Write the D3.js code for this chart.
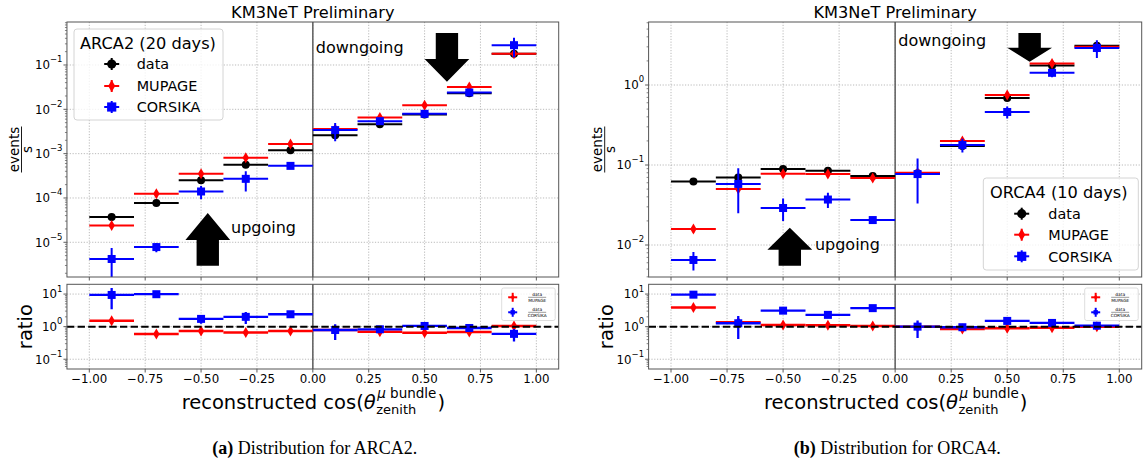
<!DOCTYPE html>
<html><head><meta charset="utf-8">
<script src="https://cdn.jsdelivr.net/npm/d3@7"></script>
<style>body{margin:0;background:#fff} svg{display:block} text{font-family:"DejaVu Sans",sans-serif;fill:#000}</style>
</head><body><svg id="c" width="1144" height="466"></svg>
<script>
// ---------------- DATA ----------------
const bins = [-0.9, -0.7, -0.5, -0.3, -0.1, 0.1, 0.3, 0.5, 0.7, 0.9];
const binHalfWidth = 0.1;
const xTicks = [-1, -0.75, -0.5, -0.25, 0, 0.25, 0.5, 0.75, 1];
const seriesNames = ["data", "MUPAGE", "CORSIKA"];

// ARCA2 (20 days) - events/s
const arcaData = [3.7e-5, 7.7e-5, 2.5e-4, 5.6e-4, 1.19e-3, 2.6e-3, 4.6e-3, 7.6e-3, 0.023, 0.18];
const arcaDataErr = [2e-6, 3e-6, 6e-6, 1e-5, 2e-5, 4e-5, 6e-5, 1e-4, 3e-4, 2e-3];
const arcaMupage = [2.4e-5, 1.25e-4, 3.5e-4, 8.1e-4, 1.65e-3, 3.6e-3, 6.5e-3, 0.0123, 0.032, 0.18];
const arcaMupageErr = [2.5e-6, 1.2e-5, 3e-5, 7e-5, 1.4e-4, 3e-4, 5e-4, 1e-3, 2.5e-3, 0.012];
const arcaCorsika = [4.2e-6, 7.8e-6, 1.4e-4, 2.7e-4, 5.3e-4, 3.4e-3, 5.4e-3, 7.9e-3, 0.024, 0.28];
const arcaCorsikaErr = [3.2e-6, 1.8e-6, 4.6e-5, 1.3e-4, 3e-5, 1.5e-3, 6e-4, 1.5e-3, 1e-3, 0.13];
const arcaRatioMupage = [1.53, 0.60, 0.74, 0.66, 0.74, 0.79, 0.70, 0.65, 0.69, 1.05];
const arcaRatioMupageErr = [0.2, 0.07, 0.08, 0.08, 0.08, 0.08, 0.07, 0.07, 0.07, 0.12];
const arcaRatioCorsika = [9.4, 9.9, 1.73, 2.0, 2.4, 0.79, 0.83, 1.05, 0.91, 0.6];
const arcaRatioCorsikaErr = [6, 0.8, 0.5, 0.8, 0.2, 0.4, 0.08, 0.1, 0.1, 0.25];

// ORCA4 (10 days) - events/s
const orcaData = [0.062, 0.070, 0.089, 0.085, 0.073, 0.079, 0.173, 0.69, 1.75, 3.1];
const orcaDataErr = [0.001, 0.001, 0.001, 0.001, 0.001, 0.001, 0.002, 0.005, 0.01, 0.02];
const orcaMupage = [0.0158, 0.050, 0.078, 0.077, 0.069, 0.080, 0.20, 0.75, 1.86, 3.0];
const orcaMupageErr = [0.0015, 0.004, 0.005, 0.005, 0.004, 0.005, 0.015, 0.05, 0.12, 0.2];
const orcaCorsika = [0.0065, 0.058, 0.029, 0.037, 0.0205, 0.077, 0.178, 0.46, 1.42, 2.9];
const orcaCorsikaErr = [0.0017, 0.033, 0.009, 0.008, 0.002, 0.044, 0.035, 0.08, 0.17, 0.72];
const orcaRatioMupage = [3.9, 1.36, 1.13, 1.1, 1.05, 1.0, 0.85, 0.9, 0.93, 1.0];
const orcaRatioMupageErr = [0.4, 0.4, 0.1, 0.1, 0.08, 0.1, 0.08, 0.08, 0.08, 0.08];
const orcaRatioCorsika = [9.6, 1.27, 3.1, 2.3, 3.7, 1.0, 0.96, 1.5, 1.3, 1.07];
const orcaRatioCorsikaErr = [0.8, 0.85, 0.6, 0.4, 0.3, 0.55, 0.08, 0.15, 0.12, 0.2];

// ---------------- LAYOUT ----------------
const colors = {data: "#000000", MUPAGE: "#ff0000", CORSIKA: "#0000ff"};
const markers = {data: "circle", MUPAGE: "diamond", CORSIKA: "square"};
const ratioDomain = [Math.pow(10, -1.3), Math.pow(10, 1.3)];

const panels = [
  {
    id: "a", x0: 66.95, x1: 558.7, mainTop: 22, mainBottom: 277, ratioTop: 284.3, ratioBottom: 369,
    yDomain: [Math.pow(10, -5.783), Math.pow(10, -0.03)],
    main: {data: [arcaData, arcaDataErr], MUPAGE: [arcaMupage, arcaMupageErr], CORSIKA: [arcaCorsika, arcaCorsikaErr]},
    ratio: {MUPAGE: [arcaRatioMupage, arcaRatioMupageErr], CORSIKA: [arcaRatioCorsika, arcaRatioCorsikaErr]},
    legend: {title: "ARCA2 (20 days)", bx: 74, by: 29, bw: 149, bh: 91, tx: 80, ty: 48.5, mx: 111.7, lx: 136.7, rows: [64, 86, 107]},
    eventsX: 21.5, ratioX: 31.7,
    arrows: [{x: -0.47, tail: 0.044, tip: 0.251, head: 0.106}, {x: 0.6, tail: 0.957, tip: 0.766, head: 0.089}],
    notes: [{t: "upgoing", x: -0.366, y: 0.1725}, {t: "downgoing", x: 0.013, y: 0.8765}],
    caption: ["(a)", " Distribution for ARCA2."]
  },
  {
    id: "b", x0: 648.6, x1: 1141.7, mainTop: 22, mainBottom: 277, ratioTop: 284.3, ratioBottom: 369,
    yDomain: [Math.pow(10, -2.4), Math.pow(10, 0.7875)],
    main: {data: [orcaData, orcaDataErr], MUPAGE: [orcaMupage, orcaMupageErr], CORSIKA: [orcaCorsika, orcaCorsikaErr]},
    ratio: {MUPAGE: [orcaRatioMupage, orcaRatioMupageErr], CORSIKA: [orcaRatioCorsika, orcaRatioCorsikaErr]},
    legend: {title: "ORCA4 (10 days)", bx: 983.3, by: 178, bw: 155, bh: 92, tx: 990, ty: 198, mx: 1021.7, lx: 1048.3, rows: [213.7, 234.7, 256.3]},
    eventsX: 604.7, ratioX: 613.3,
    arrows: [{x: -0.47, tail: 0.044, tip: 0.193, head: 0.086}, {x: 0.6, tail: 0.957, tip: 0.844, head: 0.055}],
    notes: [{t: "upgoing", x: -0.358, y: 0.106}, {t: "downgoing", x: 0.014, y: 0.904}],
    caption: ["(b)", " Distribution for ORCA4."]
  }
];

const svg = d3.select("#c");

function drawMarker(g, type, cx, cy, color, s) {
  s = s || 1;
  if (type === "circle") {
    g.append("circle").attr("cx", cx).attr("cy", cy).attr("r", 4 * s).attr("fill", color);
  } else if (type === "diamond") {
    const hw = 3.2 * s, hh = 5.5 * s;
    g.append("path").attr("d", `M${cx},${cy - hh}L${cx + hw},${cy}L${cx},${cy + hh}L${cx - hw},${cy}Z`).attr("fill", color);
  } else {
    const h = 4 * s;
    g.append("rect").attr("x", cx - h).attr("y", cy - h).attr("width", 2 * h).attr("height", 2 * h).attr("fill", color);
  }
}

function supText(g, x, y, base, exp, baseSize, expSize, anchor) {
  const t = g.append("text").attr("x", x).attr("y", y).attr("text-anchor", anchor).attr("font-size", baseSize);
  t.append("tspan").text(base);
  t.append("tspan").attr("dy", -baseSize * 0.58).attr("font-size", expSize).text(exp);
  return t;
}

function expStr(e) { return e < 0 ? "\u2212" + Math.abs(e) : String(e); }

function logTicks(domain) {
  const lo = Math.floor(Math.log10(domain[0])), hi = Math.ceil(Math.log10(domain[1]));
  const major = [], minor = [];
  for (let e = lo; e <= hi; e++) {
    for (let m = 1; m <= 9; m++) {
      const v = m * Math.pow(10, e);
      if (v < domain[0] * 0.9999 || v > domain[1] * 1.0001) continue;
      if (m === 1) major.push({v, e}); else minor.push(v);
    }
  }
  return {major, minor};
}

function drawAxesFrame(g, p, x, y, top, bottom, domain, showXLabels, clipId) {
  const ticks = logTicks(domain);
  // grid
  const grid = g.append("g").attr("stroke", "#a8a8a8").attr("stroke-width", 0.8).attr("stroke-dasharray", "1.2,1.6");
  xTicks.forEach(t => grid.append("line").attr("x1", x(t)).attr("x2", x(t)).attr("y1", top).attr("y2", bottom));
  ticks.major.forEach(t => grid.append("line").attr("x1", p.x0).attr("x2", p.x1).attr("y1", y(t.v)).attr("y2", y(t.v)));
  // x=0 line
  g.append("line").attr("x1", x(0)).attr("x2", x(0)).attr("y1", top).attr("y2", bottom).attr("stroke", "#666").attr("stroke-width", 1.6);
  // ticks
  const tk = g.append("g").attr("stroke", "#333");
  xTicks.forEach(t => tk.append("line").attr("x1", x(t)).attr("x2", x(t)).attr("y1", bottom).attr("y2", bottom + 3.5).attr("stroke-width", 0.8));
  ticks.major.forEach(t => tk.append("line").attr("x1", p.x0 - 3.5).attr("x2", p.x0).attr("y1", y(t.v)).attr("y2", y(t.v)).attr("stroke-width", 0.8));
  ticks.minor.forEach(v => tk.append("line").attr("x1", p.x0 - 2).attr("x2", p.x0).attr("y1", y(v)).attr("y2", y(v)).attr("stroke-width", 0.6));
  // y labels
  ticks.major.forEach(t => supText(g, p.x0 - 4.5, y(t.v) + 4.3, "10", expStr(t.e), 11.8, 8.5, "end"));
  if (showXLabels) {
    const f = d3.format(".2f");
    xTicks.forEach(t => g.append("text").attr("x", x(t)).attr("y", bottom + 13.7).attr("text-anchor", "middle").attr("font-size", 11.8).text(f(t)));
  }
}

function drawSeries(g, x, y, vals, errs, color, marker, lw, yMin) {
  vals.forEach((v, i) => {
    const cx = x(bins[i]);
    g.append("line").attr("x1", x(bins[i] - binHalfWidth)).attr("x2", x(bins[i] + binHalfWidth))
      .attr("y1", y(v)).attr("y2", y(v)).attr("stroke", color).attr("stroke-width", lw);
    const lo = Math.max(v - errs[i], yMin);
    g.append("line").attr("x1", cx).attr("x2", cx).attr("y1", y(lo)).attr("y2", y(v + errs[i]))
      .attr("stroke", color).attr("stroke-width", lw);
    drawMarker(g, marker, cx, y(v), color);
  });
}

panels.forEach(p => {
  const g = svg.append("g");
  const x = d3.scaleLinear().domain([-1.1, 1.1]).range([p.x0, p.x1]);
  const y = d3.scaleLog().domain(p.yDomain).range([p.mainBottom, p.mainTop]);
  const yr = d3.scaleLog().domain(ratioDomain).range([p.ratioBottom, p.ratioTop]);
  const cx = (p.x0 + p.x1) / 2;

  const defs = svg.append("defs");
  defs.append("clipPath").attr("id", "cm" + p.id).append("rect").attr("x", p.x0).attr("y", p.mainTop).attr("width", p.x1 - p.x0).attr("height", p.mainBottom - p.mainTop);
  defs.append("clipPath").attr("id", "cr" + p.id).append("rect").attr("x", p.x0).attr("y", p.ratioTop).attr("width", p.x1 - p.x0).attr("height", p.ratioBottom - p.ratioTop);

  // ---- main panel
  drawAxesFrame(g, p, x, y, p.mainTop, p.mainBottom, p.yDomain, false);
  const mg = g.append("g").attr("clip-path", `url(#cm${p.id})`);
  seriesNames.forEach(s => drawSeries(mg, x, y, p.main[s][0], p.main[s][1], colors[s], markers[s], 2, p.yDomain[0] / 10));

  // arrows
  const fy = f => p.mainBottom - f * (p.mainBottom - p.mainTop);
  p.arrows.forEach(a => {
    const xc = x(a.x), bw = (x(0.05) - x(0)), hw = (x(0.1) - x(0));
    const tail = fy(a.tail), tip = fy(a.tip);
    const dir = tip < tail ? 1 : -1; // 1 = pointing up
    const hb = tip + dir * a.head * (p.mainBottom - p.mainTop);
    const d = `M${xc - bw},${tail}L${xc - bw},${hb}L${xc - hw},${hb}L${xc},${tip}L${xc + hw},${hb}L${xc + bw},${hb}L${xc + bw},${tail}Z`;
    g.append("path").attr("d", d).attr("fill", "#000");
  });
  p.notes.forEach(n => g.append("text").attr("x", x(n.x)).attr("y", fy(n.y)).attr("font-size", 16).text(n.t));

  // frame
  g.append("rect").attr("x", p.x0).attr("y", p.mainTop).attr("width", p.x1 - p.x0).attr("height", p.mainBottom - p.mainTop)
    .attr("fill", "none").attr("stroke", "#555").attr("stroke-width", 1);

  // legend
  const L = p.legend;
  g.append("rect").attr("x", L.bx).attr("y", L.by).attr("width", L.bw).attr("height", L.bh).attr("rx", 3)
    .attr("fill", "#fff").attr("fill-opacity", 0.8).attr("stroke", "#d4d4d4").attr("stroke-width", 1);
  g.append("text").attr("x", L.tx).attr("y", L.ty).attr("font-size", 16.2).text(L.title);
  seriesNames.forEach((s, i) => {
    const ry = L.rows[i];
    g.append("line").attr("x1", L.mx - 7.5).attr("x2", L.mx + 7.5).attr("y1", ry).attr("y2", ry).attr("stroke", colors[s]).attr("stroke-width", 2);
    g.append("line").attr("x1", L.mx).attr("x2", L.mx).attr("y1", ry - 6).attr("y2", ry + 6).attr("stroke", colors[s]).attr("stroke-width", 2);
    drawMarker(g, markers[s], L.mx, ry, colors[s], s === "MUPAGE" ? 1.1 : 1.15);
    g.append("text").attr("x", L.lx).attr("y", ry + 5.2).attr("font-size", 14.4).text(s);
  });

  // title
  g.append("text").attr("x", cx).attr("y", 18).attr("text-anchor", "middle").attr("font-size", 16.2).text("KM3NeT Preliminary");

  // y label events / s
  const el = g.append("g").attr("transform", `translate(${p.eventsX},${(p.mainTop + p.mainBottom) / 2}) rotate(-90)`);
  el.append("text").attr("x", 0).attr("y", -2.5).attr("text-anchor", "middle").attr("font-size", 13.5).text("events");
  el.append("line").attr("x1", -23).attr("x2", 23).attr("y1", 0).attr("y2", 0).attr("stroke", "#000").attr("stroke-width", 0.9);
  el.append("text").attr("x", 0).attr("y", 10.3).attr("text-anchor", "middle").attr("font-size", 13.5).text("s");

  // ---- ratio panel
  drawAxesFrame(g, p, x, yr, p.ratioTop, p.ratioBottom, ratioDomain, true);
  const rg = g.append("g").attr("clip-path", `url(#cr${p.id})`);
  drawSeries(rg, x, yr, p.ratio.MUPAGE[0], p.ratio.MUPAGE[1], colors.MUPAGE, markers.MUPAGE, 2.5, ratioDomain[0] / 10);
  drawSeries(rg, x, yr, p.ratio.CORSIKA[0], p.ratio.CORSIKA[1], colors.CORSIKA, markers.CORSIKA, 2.3, ratioDomain[0] / 10);
  rg.append("line").attr("x1", p.x0).attr("x2", p.x1).attr("y1", yr(1)).attr("y2", yr(1))
    .attr("stroke", "#000").attr("stroke-width", 2).attr("stroke-dasharray", "7.4,3.2");
  g.append("rect").attr("x", p.x0).attr("y", p.ratioTop).attr("width", p.x1 - p.x0).attr("height", p.ratioBottom - p.ratioTop)
    .attr("fill", "none").attr("stroke", "#555").attr("stroke-width", 1);

  // ratio legend
  const rbx = p.x1 - 57, rbw = 53.5;
  g.append("rect").attr("x", rbx).attr("y", p.ratioTop + 3.7).attr("width", rbw).attr("height", 32.5).attr("rx", 2)
    .attr("fill", "#fff").attr("fill-opacity", 0.8).attr("stroke", "#d4d4d4").attr("stroke-width", 0.8);
  [["MUPAGE", 13], ["CORSIKA", 28]].forEach(([s, dy]) => {
    const ly = p.ratioTop + dy, lxm = p.x1 - 46, lt = p.x1 - 21.5;
    g.append("line").attr("x1", lxm - 4.5).attr("x2", lxm + 4.5).attr("y1", ly).attr("y2", ly).attr("stroke", colors[s]).attr("stroke-width", 2);
    g.append("line").attr("x1", lxm).attr("x2", lxm).attr("y1", ly - 4.5).attr("y2", ly + 4.5).attr("stroke", colors[s]).attr("stroke-width", 2);
    drawMarker(g, markers[s], lxm, ly, colors[s], 0.55);
    g.append("text").attr("x", lt).attr("y", ly - 1.8).attr("text-anchor", "middle").attr("font-size", 4.3).text("data");
    g.append("line").attr("x1", lt - 9).attr("x2", lt + 9).attr("y1", ly).attr("y2", ly).attr("stroke", "#000").attr("stroke-width", 0.4);
    g.append("text").attr("x", lt).attr("y", ly + 5).attr("text-anchor", "middle").attr("font-size", 4.3).text(s);
  });

  // ratio label
  g.append("text").attr("transform", `translate(${p.ratioX},${(p.ratioTop + p.ratioBottom) / 2}) rotate(-90)`)
    .attr("text-anchor", "middle").attr("font-size", 19.5).text("ratio");

  // x label
  const xl = g.append("g");
  const t1 = xl.append("text").attr("x", 0).attr("y", 0).attr("font-size", 19.5).text("reconstructed cos(");
  const w1 = t1.node().getComputedTextLength();
  const th = xl.append("text").attr("x", w1).attr("y", 0).attr("font-size", 19.5).attr("font-style", "italic").text("\u03b8");
  const wth = th.node().getComputedTextLength();
  const sup = xl.append("text").attr("x", w1 + wth + 1.5).attr("y", -11).attr("font-size", 13.5);
  sup.append("tspan").attr("font-style", "italic").text("\u03bc");
  sup.append("tspan").text(" bundle");
  const sub = xl.append("text").attr("x", w1 + wth + 0.5).attr("y", 4.5).attr("font-size", 13).text("zenith");
  const ws = Math.max(sup.node().getComputedTextLength() + 1.5, sub.node().getComputedTextLength() + 0.5);
  const cp = xl.append("text").attr("x", w1 + wth + ws + 1).attr("y", 0).attr("font-size", 19.5).text(")");
  const total = w1 + wth + ws + 1 + cp.node().getComputedTextLength();
  xl.attr("transform", `translate(${cx - total / 2 + 0.5},409)`);

  // caption
  const cap = g.append("text").attr("x", cx + 2).attr("y", 454).attr("text-anchor", "middle")
    .attr("font-size", 18).style("font-family", "'Liberation Serif','Times New Roman',serif");
  cap.append("tspan").attr("font-weight", "bold").text(p.caption[0]);
  cap.append("tspan").text(p.caption[1]);
});
</script>
</body></html>
